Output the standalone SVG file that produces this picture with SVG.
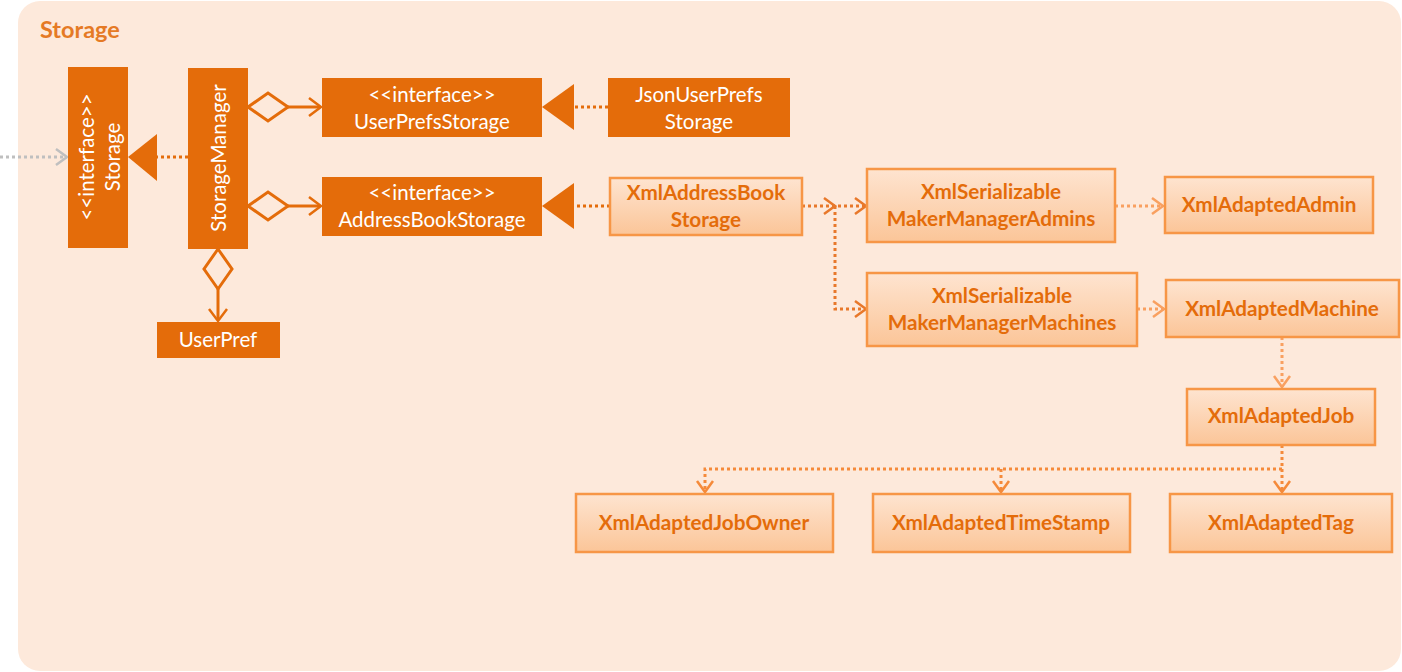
<svg xmlns="http://www.w3.org/2000/svg" width="1402" height="672" viewBox="0 0 1402 672">
<defs>
<linearGradient id="lg" x1="0" y1="0" x2="0" y2="1">
<stop offset="0" stop-color="#FEE4D0"/>
<stop offset="1" stop-color="#FBC598"/>
</linearGradient>
<style>
.dk{fill:#E46C0A;}
.dt{fill:#FFFFFF;font-family:Lato,"Liberation Sans",sans-serif;font-size:20.5px;text-anchor:middle;}
.lt rect{fill:url(#lg);stroke:#F79646;stroke-width:2.5;}
.lt text{fill:#E46C0A;font-family:Lato,"Liberation Sans",sans-serif;font-size:20.7px;font-weight:bold;text-anchor:middle;}
.dot{fill:none;stroke-width:3;stroke-dasharray:3 3;}
.solid{fill:none;stroke:#E46C0A;stroke-width:3;}
.ar{fill:none;stroke-width:2.5;stroke-linejoin:miter;}
</style>
</defs>
<rect x="18" y="1" width="1383" height="670" rx="22" fill="#FDE9DB"/>
<text x="40" y="38" font-family="Lato,'Liberation Sans',sans-serif" font-size="23.5" font-weight="bold" fill="#E57A25">Storage</text>

<g id="connectors">
<line x1="0" y1="157" x2="66" y2="157" class="dot" stroke="#BFBFBF"/>
<polyline points="56,149 67,157 56,165" class="ar" stroke="#BFBFBF"/>
<line x1="188" y1="157" x2="157" y2="157" class="dot" stroke="#E46C0A"/>
<polygon points="128,157 157,134 157,181" fill="#E46C0A"/>
<polygon points="248,107 268,93 288,107 268,121" fill="#FDE9DB" stroke="#E46C0A" stroke-width="3"/>
<line x1="288" y1="107" x2="320" y2="107" class="solid"/>
<polyline points="309,98 321,107 309,116" class="ar" stroke="#E46C0A"/>
<polygon points="248,206 268,192 288,206 268,220" fill="#FDE9DB" stroke="#E46C0A" stroke-width="3"/>
<line x1="288" y1="206" x2="320" y2="206" class="solid"/>
<polyline points="309,197 321,206 309,215" class="ar" stroke="#E46C0A"/>
<polygon points="218,249 232,269 218,289 204,269" fill="#FDE9DB" stroke="#E46C0A" stroke-width="3"/>
<line x1="218" y1="289" x2="218" y2="320" class="solid"/>
<polyline points="209,309 218,321 227,309" class="ar" stroke="#E46C0A"/>
<line x1="608" y1="107" x2="574" y2="107" class="dot" stroke="#E46C0A"/>
<polygon points="542,107 574,84 574,130" fill="#E46C0A"/>
<line x1="610" y1="206" x2="574" y2="206" class="dot" stroke="#E46C0A"/>
<polygon points="542,206 574,183 574,229" fill="#E46C0A"/>
<line x1="802" y1="206" x2="865" y2="206" class="dot" stroke="#E8782A"/>
<polyline points="824,198 835,206 824,214" class="ar" stroke="#E8782A"/>
<polyline points="855,198 866,206 855,214" class="ar" stroke="#E8782A"/>
<polyline points="835,206 835,309 865,309" class="dot" stroke="#E8782A"/>
<polyline points="855,301 866,309 855,317" class="ar" stroke="#E8782A"/>
<line x1="1115" y1="206" x2="1163" y2="206" class="dot" stroke="#F9A060"/>
<polyline points="1152,198 1163,206 1152,214" class="ar" stroke="#F9A060"/>
<line x1="1137" y1="309" x2="1164" y2="309" class="dot" stroke="#F9A060"/>
<polyline points="1153,301 1164,309 1153,317" class="ar" stroke="#F9A060"/>
<line x1="1282" y1="337" x2="1282" y2="387" class="dot" stroke="#F9A060"/>
<polyline points="1274,376 1282,387 1290,376" class="ar" stroke="#F9A060"/>
<line x1="1282" y1="445" x2="1282" y2="492" class="dot" stroke="#F58A3A"/>
<polyline points="1274,481 1282,492 1290,481" class="ar" stroke="#F58A3A"/>
<polyline points="1282,469 705,469 705,492" class="dot" stroke="#F58A3A"/>
<polyline points="697,481 705,492 713,481" class="ar" stroke="#F58A3A"/>
<line x1="1001" y1="469" x2="1001" y2="492" class="dot" stroke="#F58A3A"/>
<polyline points="993,481 1001,492 1009,481" class="ar" stroke="#F58A3A"/>
</g>

<g id="Storage">
<rect x="68" y="67" width="60" height="181" class="dk"/>
<text class="dt" transform="translate(94,157) rotate(-90)">&lt;&lt;interface&gt;&gt;</text>
<text class="dt" transform="translate(120,157) rotate(-90)">Storage</text>
</g>
<g id="StorageManager">
<rect x="188" y="68" width="60" height="181" class="dk"/>
<text class="dt" transform="translate(226,158) rotate(-90)">StorageManager</text>
</g>
<g id="UserPrefsStorage">
<rect x="322" y="78" width="220" height="59" class="dk"/>
<text class="dt" x="432" y="102">&lt;&lt;interface&gt;&gt;</text>
<text class="dt" x="432" y="129">UserPrefsStorage</text>
</g>
<g id="JsonUserPrefsStorage">
<rect x="608" y="78" width="182" height="59" class="dk"/>
<text class="dt" x="699" y="102">JsonUserPrefs</text>
<text class="dt" x="699" y="129">Storage</text>
</g>
<g id="AddressBookStorage">
<rect x="322" y="177" width="220" height="59" class="dk"/>
<text class="dt" x="432" y="200">&lt;&lt;interface&gt;&gt;</text>
<text class="dt" x="432" y="227">AddressBookStorage</text>
</g>
<g id="UserPref">
<rect x="157" y="322" width="123" height="36" class="dk"/>
<text class="dt" x="218" y="347">UserPref</text>
</g>

<g id="XmlAddressBookStorage" class="lt">
<rect x="610" y="178" width="192" height="57"/>
<text x="706" y="200">XmlAddressBook</text>
<text x="706" y="227">Storage</text>
</g>
<g id="XmlSerializableMakerManagerAdmins" class="lt">
<rect x="867" y="169" width="248" height="73"/>
<text x="991" y="199">XmlSerializable</text>
<text x="991" y="226">MakerManagerAdmins</text>
</g>
<g id="XmlAdaptedAdmin" class="lt">
<rect x="1165" y="177" width="208" height="56"/>
<text x="1269" y="212">XmlAdaptedAdmin</text>
</g>
<g id="XmlSerializableMakerManagerMachines" class="lt">
<rect x="867" y="273" width="270" height="73"/>
<text x="1002" y="303">XmlSerializable</text>
<text x="1002" y="330">MakerManagerMachines</text>
</g>
<g id="XmlAdaptedMachine" class="lt">
<rect x="1166" y="280" width="233" height="57"/>
<text x="1282" y="316">XmlAdaptedMachine</text>
</g>
<g id="XmlAdaptedJob" class="lt">
<rect x="1187" y="389" width="188" height="56"/>
<text x="1281" y="423">XmlAdaptedJob</text>
</g>
<g id="XmlAdaptedJobOwner" class="lt">
<rect x="576" y="494" width="257" height="58"/>
<text x="704" y="530">XmlAdaptedJobOwner</text>
</g>
<g id="XmlAdaptedTimeStamp" class="lt">
<rect x="873" y="494" width="257" height="58"/>
<text x="1001" y="530">XmlAdaptedTimeStamp</text>
</g>
<g id="XmlAdaptedTag" class="lt">
<rect x="1170" y="494" width="222" height="58"/>
<text x="1281" y="530">XmlAdaptedTag</text>
</g>
</svg>
